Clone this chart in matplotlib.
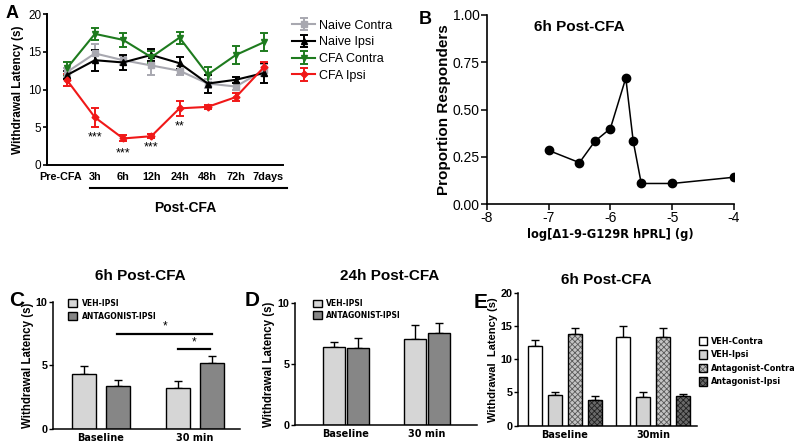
import numpy as np
import matplotlib
matplotlib.use("Agg")
import matplotlib.pyplot as plt
from matplotlib.legend_handler import HandlerTuple
from matplotlib.transforms import ScaledTranslation

plt.rcParams['axes.unicode_minus'] = False
plt.rcParams['font.family'] = ['Liberation Sans', 'DejaVu Sans']
plt.rcParams['hatch.linewidth'] = 0.6

# ---------------- data ----------------
# Panel A
times = ['Pre-CFA', '3h', '6h', '12h', '24h', '48h', '72h', '7days']
naive_contra = [12.3, 14.8, 13.9, 13.2, 12.5, 10.8, 10.4, 12.6]
naive_contra_err = [0.6, 1.2, 0.6, 1.2, 0.6, 0.6, 0.5, 0.8]
naive_ipsi = [11.9, 13.9, 13.6, 14.6, 13.5, 10.8, 11.3, 12.2]
naive_ipsi_err = [0.5, 1.4, 1.0, 0.8, 0.8, 1.2, 0.4, 1.3]
cfa_contra = [12.8, 17.4, 16.6, 14.3, 16.9, 12.0, 14.6, 16.3]
cfa_contra_err = [0.9, 0.8, 0.9, 0.8, 0.8, 1.0, 1.2, 1.2]
cfa_ipsi = [11.3, 6.3, 3.5, 3.8, 7.5, 7.7, 9.0, 13.0]
cfa_ipsi_err = [0.8, 1.3, 0.4, 0.3, 1.0, 0.3, 0.5, 0.6]
star_labels = ['***', '***', '***', '**']
star_times = ['3h', '6h', '12h', '24h']
star_values = [3.7, 1.5, 2.3, 5.1]

# Panel B
log_dose = [-7.0, -6.5, -6.25, -6.0, -5.75, -5.63, -5.5, -5.0, -4.0]
prop_resp = [0.285, 0.22, 0.333, 0.40, 0.667, 0.333, 0.11, 0.11, 0.143]

# Panel C
groups_cd = ['Baseline', '30 min']
c_veh = [4.3, 3.2]
c_veh_err = [0.65, 0.55]
c_ant = [3.4, 5.15]
c_ant_err = [0.45, 0.55]

# Panel D
d_veh = [6.35, 7.05]
d_veh_err = [0.45, 1.1]
d_ant = [6.3, 7.5]
d_ant_err = [0.8, 0.85]

# Panel E
groups_e = ['Baseline', '30min']
e_labels = ['VEH-Contra', 'VEH-Ipsi', 'Antagonist-Contra', 'Antagonist-Ipsi']
e_vals = [[12.0, 13.4], [4.65, 4.35], [13.8, 13.4], [3.8, 4.5]]
e_errs = [[0.95, 1.6], [0.35, 0.75], [0.9, 1.25], [0.7, 0.25]]

# ---------------- figure ----------------
W, H = 800, 446
fig = plt.figure(figsize=(W / 100, H / 100), dpi=100)


def px_axes(l, t, r, b):
    return fig.add_axes([l / W, 1 - b / H, (r - l) / W, (b - t) / H])


def style_axes(ax, lw=1.0):
    for s in ['top', 'right']:
        ax.spines[s].set_visible(False)
    for s in ['left', 'bottom']:
        ax.spines[s].set_linewidth(lw)


VERD = 'DejaVu Sans'

# ---------- Panel A ----------
axA = px_axes(46.7, 14.3, 283, 164.8)
style_axes(axA, 1.4)
xA = np.arange(len(times))
series = [
    (naive_contra, naive_contra_err, '#a8a8b0', 's', 'Naive Contra', 4),
    (naive_ipsi, naive_ipsi_err, 'black', '^', 'Naive Ipsi', 5),
    (cfa_contra, cfa_contra_err, '#1e7b1e', 'v', 'CFA Contra', 5),
    (cfa_ipsi, cfa_ipsi_err, '#f01818', 'D', 'CFA Ipsi', 3.5),
]
for vals, errs, col, mk, lab, ms in series:
    axA.errorbar(xA, vals, yerr=errs, color=col, marker=mk, ms=ms, lw=1.5,
                 capsize=3, capthick=1.4, elinewidth=1.4, label=lab)
axA.set_xlim(-0.71, 7.67)
axA.set_ylim(0, 20)
axA.set_yticks([0, 5, 10, 15, 20])
axA.tick_params(axis='y', labelsize=8.5, width=1.2, length=3, pad=1)
axA.set_xticks(xA)
axA.set_xticklabels(times, fontsize=7.8, fontweight='bold')
axA.tick_params(axis='x', length=0, pad=5)
xt = axA.get_xticklabels()
xt[0].set_transform(xt[0].get_transform() + ScaledTranslation(-0.06, 0, fig.dpi_scale_trans))
xt[-1].set_transform(xt[-1].get_transform() + ScaledTranslation(0.04, 0, fig.dpi_scale_trans))
axA.set_ylabel('Withdrawal Latency (s)', fontsize=8.5, fontweight='bold', labelpad=3)
for lab, t, v in zip(star_labels, star_times, star_values):
    axA.text(times.index(t), v, lab, ha='center', va='center', fontsize=9)
axA.plot([0.183, 1.017], [-0.154, -0.154], transform=axA.transAxes,
         color='black', lw=1.5, clip_on=False)
axA.text(0.585, -0.285, 'Post-CFA', transform=axA.transAxes, ha='center',
         va='center', fontsize=10, fontweight='bold')
axA.legend(loc='upper left', bbox_to_anchor=(1.04, 0.965), frameon=False,
           fontsize=9, handlelength=1.8, handletextpad=0.3, labelspacing=0.38,
           borderpad=0, borderaxespad=0)
fig.text(12 / W, 1 - 14 / H, 'A', fontsize=13, fontweight='bold', ha='center', va='center')

# ---------- Panel B ----------
axB = px_axes(486.7, 15, 734, 204.3)
style_axes(axB, 1.2)
axB.plot(log_dose, prop_resp, color='black', marker='o', ms=6, lw=1.1)
axB.set_xlim(-8, -4)
axB.set_ylim(0, 1)
axB.set_yticks([0, 0.25, 0.5, 0.75, 1.0])
axB.set_yticklabels(['0.00', '0.25', '0.50', '0.75', '1.00'])
axB.set_xticks([-8, -7, -6, -5, -4])
axB.tick_params(labelsize=10, width=1.1, length=4, pad=1)
axB.set_ylabel('Proportion Responders', fontsize=11, fontweight='bold', labelpad=1)
axB.set_xlabel('log[\u03941-9-G129R hPRL] (g)', fontsize=8.3, fontweight='bold',
               family=VERD, labelpad=2)
axB.text(-6.5, 0.935, '6h Post-CFA', fontsize=11, fontweight='bold', ha='center', va='center')
fig.text(425 / W, 1 - 20 / H, 'B', fontsize=13, fontweight='bold', ha='center', va='center')

# ---------- bar helper ----------
VEH_COL = '#d6d6d6'
ANT_COL = '#868686'


def draw_bars(ax, xs, vals, errs, width, face, hatch=None, hatch_col=None):
    b1 = ax.bar(xs, vals, width, color=face, edgecolor=hatch_col if hatch else face,
                hatch=hatch, linewidth=0, zorder=2)
    b2 = ax.bar(xs, vals, width, fill=False, edgecolor='black', linewidth=1.0, zorder=3)
    ax.errorbar(xs, vals, yerr=[np.zeros(len(vals)), errs], fmt='none',
                ecolor='black', elinewidth=1.0, capsize=3, capthick=1.0, zorder=1)
    return (b1[0], b2[0])


def bar_panel_common(ax, groups, ylim, yticks):
    style_axes(ax, 1.1)
    ax.set_ylim(*ylim)
    ax.set_yticks(yticks)
    ax.tick_params(axis='y', labelsize=7.8, width=1.0, length=3, pad=1)
    for t in ax.get_yticklabels():
        t.set_fontweight('bold')
    ax.set_xticks(np.arange(len(groups)))
    ax.set_xticklabels(groups, fontsize=7, fontweight='bold', family=VERD)
    ax.tick_params(axis='x', length=0, pad=3)
    ax.set_ylabel('Withdrawal Latency (s)', fontsize=8.3, fontweight='bold', labelpad=2)


# ---------- Panel C ----------
axC = px_axes(53, 301.7, 240, 428.8)
xC = np.arange(len(groups_cd))
offC, wC = 17 / 93.5, 24 / 93.5
hC1 = draw_bars(axC, xC - offC, c_veh, c_veh_err, wC, VEH_COL)
hC2 = draw_bars(axC, xC + offC, c_ant, c_ant_err, wC, ANT_COL)
axC.set_xlim((53 - 101) / 93.5, (240 - 101) / 93.5)
bar_panel_common(axC, groups_cd, (0, 10), [0, 5, 10])
axC.set_ylabel('Withdrawal Latency (s)', fontsize=8.3, fontweight='bold', labelpad=1)
# significance
axC.plot([xC[0] + offC - 0.01, xC[1] + offC], [7.45, 7.45], color='black', lw=1.6)
axC.text((xC[0] + xC[1]) / 2 + offC, 7.55, '*', ha='center', va='bottom', fontsize=8.5)
axC.plot([xC[1] - offC, xC[1] + offC - 0.02], [6.26, 6.26], color='black', lw=1.6)
axC.text(xC[1] - 0.01, 6.36, '*', ha='center', va='bottom', fontsize=8.5)
axC.legend([hC1, hC2], ['VEH-IPSI', 'ANTAGONIST-IPSI'],
           handler_map={tuple: HandlerTuple(ndivide=1)},
           loc='upper left', bbox_to_anchor=((68 - 53) / 187, 1.025), frameon=False,
           prop={'family': VERD, 'weight': 'bold', 'size': 5.5},
           handlelength=1.2, handleheight=1.1, handletextpad=0.6,
           labelspacing=0.55, borderpad=0, borderaxespad=0)
fig.text(140 / W, 1 - 276 / H, '6h Post-CFA', fontsize=11, fontweight='bold', ha='center', va='center')
fig.text(17 / W, 1 - 300 / H, 'C', fontsize=15, fontweight='bold', ha='center', va='center')

# ---------- Panel D ----------
axD = px_axes(295, 302.7, 477, 425)
xD = np.arange(len(groups_cd))
offD, wD = 12 / 81, 22.5 / 81
hD1 = draw_bars(axD, xD - offD, d_veh, d_veh_err, wD, VEH_COL)
hD2 = draw_bars(axD, xD + offD, d_ant, d_ant_err, wD, ANT_COL)
axD.set_xlim((295 - 346) / 81, (477 - 346) / 81)
bar_panel_common(axD, groups_cd, (0, 10), [0, 5, 10])
axD.legend([hD1, hD2], ['VEH-IPSI', 'ANTAGONIST-IPSI'],
           handler_map={tuple: HandlerTuple(ndivide=1)},
           loc='upper left', bbox_to_anchor=(0.1, 1.03), frameon=False,
           prop={'family': VERD, 'weight': 'bold', 'size': 5.5},
           handlelength=1.2, handleheight=1.1, handletextpad=0.5,
           labelspacing=0.35, borderpad=0, borderaxespad=0)
fig.text(390 / W, 1 - 276 / H, '24h Post-CFA', fontsize=11, fontweight='bold', ha='center', va='center')
fig.text(252 / W, 1 - 300 / H, 'D', fontsize=15, fontweight='bold', ha='center', va='center')

# ---------- Panel E ----------
axE = px_axes(518, 292.7, 697, 425.7)
xE = np.arange(len(groups_e))
unitE = 88.5
offsE = [-30 / unitE, -10 / unitE, 10 / unitE, 30 / unitE]
wE = 14 / unitE
e_styles = [('white', None, None), ('#d2d2d2', None, None),
            ('#c4c4c4', 'xxxxxx', '#5a5a5a'), ('#6a6a6a', 'xxxxxx', '#222222')]
handlesE = []
for k in range(len(e_labels)):
    face, hatch, hcol = e_styles[k]
    handlesE.append(draw_bars(axE, xE + offsE[k], e_vals[k], e_errs[k], wE, face, hatch, hcol))
axE.set_xlim((518 - 564.5) / unitE, (697 - 564.5) / unitE)
bar_panel_common(axE, groups_e, (0, 20), [0, 5, 10, 15, 20])
axE.set_ylabel('Withdrawal  Latency (s)', fontsize=8, fontweight='bold', labelpad=2)
axE.legend(handlesE, e_labels, handler_map={tuple: HandlerTuple(ndivide=1)},
           loc='upper left', bbox_to_anchor=(1.01, 0.67), frameon=False,
           prop={'family': VERD, 'weight': 'bold', 'size': 5.9},
           handlelength=1.0, handleheight=1.2, handletextpad=0.5,
           labelspacing=0.55, borderpad=0, borderaxespad=0)
fig.text(606.7 / W, 1 - 280 / H, '6h Post-CFA', fontsize=11, fontweight='bold', ha='center', va='center')
fig.text(481 / W, 1 - 302 / H, 'E', fontsize=15, fontweight='bold', ha='center', va='center')

fig.savefig('out.png', dpi=100)
